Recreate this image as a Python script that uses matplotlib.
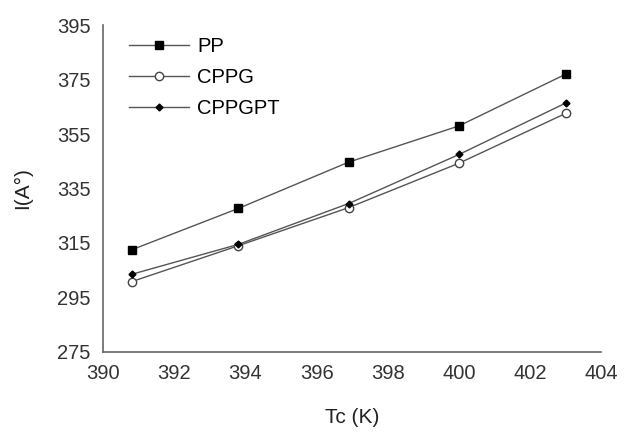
import matplotlib
matplotlib.use("Agg")
from matplotlib import pyplot as plt

tc = [390.8, 393.8, 396.9, 400.0, 403.0]
pp = [312.5, 327.7, 344.7, 358.0, 377.0]
cppg = [300.8, 314.0, 328.0, 344.3, 362.6]
cppgpt = [303.5, 314.5, 329.5, 347.5, 366.4]

plt.rcParams['font.family'] = ['Liberation Sans', 'DejaVu Sans']

fig = plt.figure(figsize=(6.37, 4.41), dpi=100)
ax = fig.add_axes([0.162, 0.202, 0.782, 0.741])

lc = '#555555'
ax.plot(tc, pp, color=lc, lw=1.0, marker='s', ms=6, mfc='black', mec='black', label='PP')
ax.plot(tc, cppg, color=lc, lw=1.0, marker='o', ms=6, mfc='white', mec='#444444', label='CPPG')
ax.plot(tc, cppgpt, color=lc, lw=1.0, marker='D', ms=3.5, mfc='black', mec='black', label='CPPGPT')

ax.set_xlim(390, 404)
ax.set_ylim(275, 395)
ax.set_xticks(range(390, 405, 2))
ax.set_yticks(range(275, 396, 20))
ax.tick_params(length=0, labelsize=14.5, colors='#333333', pad=9)
for s in ['top', 'right']:
    ax.spines[s].set_visible(False)
for s in ['left', 'bottom']:
    ax.spines[s].set_color('#666666')
    ax.spines[s].set_linewidth(1.2)

ax.set_xlabel('Tc (K)', fontsize=15, color='#222222', labelpad=18)
ax.set_ylabel('I(A°)', fontsize=15, color='#222222', labelpad=18)

ax.legend(loc='upper left', bbox_to_anchor=(0.015, 1.02), frameon=False, fontsize=14.5,
          handlelength=3.0, labelspacing=0.6, handletextpad=0.4)

fig.savefig('out.png', dpi=100)
